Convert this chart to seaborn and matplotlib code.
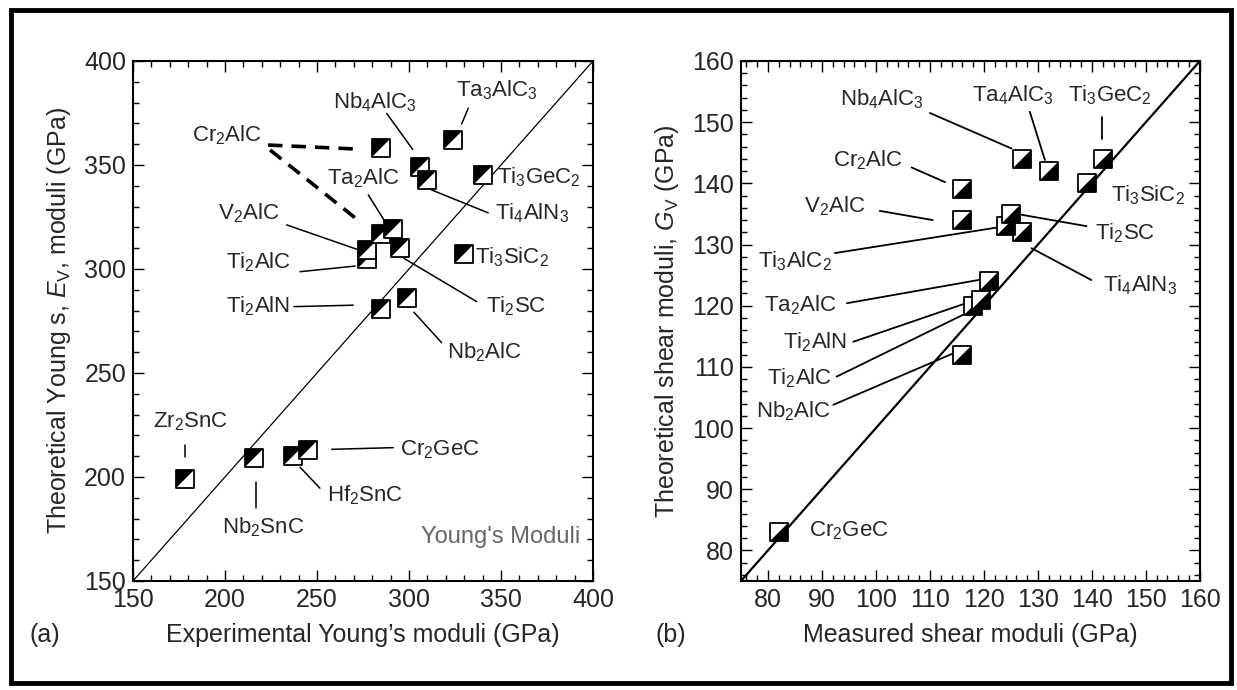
import numpy as np
import pandas as pd
import matplotlib
matplotlib.use('Agg')
import matplotlib.pyplot as plt
from matplotlib.ticker import MultipleLocator
from matplotlib.patches import Rectangle
import seaborn as sns

# Данные: (a) модуль Юнга
young_names = ['Zr2SnC', 'Nb2SnC', 'Hf2SnC', 'Cr2GeC', 'Ti2AlN', 'Nb2AlC', 'Ti2AlC',
               'V2AlC', 'Cr2AlC', 'Ta2AlC', 'Ti2SC', 'Ti3SiC2', 'Cr2AlC', 'Nb4AlC3',
               'Ti4AlN3', 'Ti3GeC2', 'Ta3AlC3']
young_exp = [178, 216, 237, 245, 285, 299, 277, 277, 285, 291.5, 295, 330, 285, 306, 310, 340, 324]
young_theo = [199, 209, 210, 213, 281, 286, 305, 309, 317, 319, 310, 307, 358, 349, 343, 345, 362]

# Данные: (b) модуль сдвига
shear_names = ['Cr2GeC', 'Nb2AlC', 'Ti2AlC', 'Ti2AlN', 'Ta2AlC', 'V2AlC', 'Cr2AlC',
               'Ti4AlN3', 'Ti3AlC2', 'Ti2SC', 'Nb4AlC3', 'Ta4AlC3', 'Ti3SiC2', 'Ti3GeC2']
shear_meas = [82, 116, 118, 119.5, 121, 116, 116, 127, 124, 125, 127, 132, 139, 142]
shear_theo = [83, 112, 120, 121, 124, 134, 139, 132, 133, 135, 144, 142, 140, 144]

df_young = pd.DataFrame({'name': young_names, 'x': young_exp, 'y': young_theo})
df_shear = pd.DataFrame({'name': shear_names, 'x': shear_meas, 'y': shear_theo})

sns.set_theme(style='ticks')
plt.rcParams['font.family'] = ['Liberation Sans', 'DejaVu Sans']
plt.rcParams['mathtext.fontset'] = 'custom'
plt.rcParams['mathtext.rm'] = 'Liberation Sans'
plt.rcParams['mathtext.it'] = 'Liberation Sans:italic'
plt.rcParams['mathtext.bf'] = 'Liberation Sans:bold'


def tex(name):
    # Ti3AlC2 -> Ti$_3$AlC$_2$
    out = ''
    for ch in name:
        out += '$_%s$' % ch if ch.isdigit() else ch
    return out


tri_ul = [(-1, -1), (-1, 1), (1, 1)]
tri_lr = [(-1, -1), (1, -1), (1, 1)]


def draw_points(ax, df, tri):
    z = 3
    for _, r in df.iterrows():
        sns.scatterplot(x=[r['x']], y=[r['y']], marker='s', s=160, color='white',
                        edgecolor='black', linewidth=1.3, ax=ax, zorder=z, legend=False)
        sns.scatterplot(x=[r['x']], y=[r['y']], marker=tri, s=160, color='black',
                        linewidth=0, ax=ax, zorder=z + 0.5, legend=False)
        z += 1


def setup(ax, lo, hi, major, minor):
    ax.set_xlim(lo, hi)
    ax.set_ylim(lo, hi)
    ax.xaxis.set_major_locator(MultipleLocator(major))
    ax.yaxis.set_major_locator(MultipleLocator(major))
    ax.xaxis.set_minor_locator(MultipleLocator(minor))
    ax.yaxis.set_minor_locator(MultipleLocator(minor))
    ax.tick_params(which='both', direction='in', top=True, right=True, color='black',
                   labelsize=18, width=1.0)
    ax.tick_params(which='major', length=8, pad=5)
    ax.tick_params(which='minor', length=4)
    for s in ax.spines.values():
        s.set_linewidth(1.5)
        s.set_color('black')


fig = plt.figure(figsize=(12.37, 6.90), dpi=100)
ax1 = fig.add_axes([0.1075, 0.158, 0.3719, 0.7536])
ax2 = fig.add_axes([0.599, 0.158, 0.371, 0.7536])

# (a)
sns.lineplot(x=[150, 400], y=[150, 400], color='black', linewidth=0.9, ax=ax1)
draw_points(ax1, df_young, tri_ul)
setup(ax1, 150, 400, 50, 10)
ax1.set_xlabel("Experimental Young’s moduli (GPa)", fontsize=18, labelpad=8)
ax1.set_ylabel(r"Theoretical Young s, $E_\mathrm{V}$, moduli (GPa)", fontsize=18, labelpad=8)

young_labels = [
    ('Zr2SnC', 181, 226.6, 'center', [(178.3, 215.4), (178.3, 209.5)]),
    ('Nb2SnC', 220.8, 176, 'center', [(216.8, 197.7), (216.8, 185)]),
    ('Hf2SnC', 276, 191.3, 'center', [(240.8, 204.7), (251.6, 194.6)]),
    ('Cr2GeC', 316.8, 213, 'center', [(258, 213.3), (291.4, 214.1)]),
    ('Ti2AlN', 218, 282, 'center', [(237.5, 281.9), (269.7, 282.6)]),
    ('Nb2AlC', 341, 260, 'center', [(302.7, 279.2), (317.7, 264.6)]),
    ('Ti2AlC', 218, 303.5, 'center', [(240.8, 298.7), (270.7, 301.4)]),
    ('V2AlC', 212.7, 326.8, 'center', [(233.5, 321.2), (271.6, 309.5)]),
    ('Ta2AlC', 275, 343.6, 'center', [(277.9, 335.6), (287, 322.7)]),
    ('Ti2SC', 342, 282.2, 'left', [(297.3, 305.1), (336.8, 284.3)]),
    ('Ti3SiC2', 336, 305.5, 'left', None),
    ('Cr2AlC', 201, 364.4, 'center', None),
    ('Nb4AlC3', 281.5, 380.4, 'center', [(287.9, 374.8), (302, 357.5)]),
    ('Ti4AlN3', 347, 326.9, 'left', [(312.3, 338), (343, 327)]),
    ('Ti3GeC2', 347.8, 344.2, 'left', None),
    ('Ta3AlC3', 347.6, 386.1, 'center', [(332.2, 377.3), (328.6, 369.7)]),
]
for name, tx, ty, ha, lead in young_labels:
    ax1.text(tx, ty, tex(name), fontsize=16, ha=ha, va='center', zorder=50)
    if lead:
        ax1.plot([lead[0][0], lead[1][0]], [lead[0][1], lead[1][1]], color='black',
                 linewidth=1.1, zorder=2)
# штриховые линии Cr2AlC
ax1.plot([223.4, 270.7], [359.6, 357.7], color='black', linewidth=2.6, linestyle=(0, (4, 2.5)), zorder=2)
ax1.plot([224.5, 273.4], [357.2, 322.7], color='black', linewidth=2.6, linestyle=(0, (4, 2.5)), zorder=2)
ax1.text(393, 171.3, "Young's Moduli", fontsize=17, color='#666666', ha='right', va='center')

# (b)
sns.lineplot(x=[75, 160], y=[75, 160], color='black', linewidth=1.6, ax=ax2)
draw_points(ax2, df_shear, tri_lr)
setup(ax2, 75, 160, 10, 2)
ax2.set_xlabel("Measured shear moduli (GPa)", fontsize=18, labelpad=8)
ax2.set_ylabel(r"Theoretical shear moduli, $G_\mathrm{V}$ (GPa)", fontsize=18, labelpad=8)

shear_labels = [
    ('Nb4AlC3', 101.2, 153.7, [(110, 151.5), (125.1, 145.7)]),
    ('Ta4AlC3', 125.4, 154.4, [(128.5, 151.7), (131.3, 143.8)]),
    ('Ti3GeC2', 143.3, 154.4, [(141.8, 150.9), (141.8, 147.2)]),
    ('Ti3SiC2', 150.4, 138.1, None),
    ('Cr2AlC', 98.6, 143.8, [(106.6, 142.6), (112.8, 140.2)]),
    ('V2AlC', 92.4, 136.2, [(100.7, 135.5), (110.5, 134.0)]),
    ('Ti2SC', 146.1, 131.8, [(126.1, 135.0), (139.0, 133.0)]),
    ('Ti3AlC2', 85.0, 127.2, [(92.4, 128.6), (123.3, 132.9)]),
    ('Ti4AlN3', 148.9, 123.4, [(139.9, 124.2), (128.8, 129.4)]),
    ('Ta2AlC', 85.9, 120.1, [(94.6, 120.4), (119.0, 124.2)]),
    ('Ti2AlN', 88.7, 114.1, [(95.8, 114.1), (118.0, 120.8)]),
    ('Ti2AlC', 85.9, 108.2, [(92.7, 108.4), (116.8, 118.8)]),
    ('Nb2AlC', 84.7, 102.7, [(92.1, 103.8), (114.3, 112.2)]),
    ('Cr2GeC', 94.9, 83.3, None),
]
for name, tx, ty, lead in shear_labels:
    ax2.text(tx, ty, tex(name), fontsize=16, ha='center', va='center', zorder=50)
    if lead:
        ax2.plot([lead[0][0], lead[1][0]], [lead[0][1], lead[1][1]], color='black',
                 linewidth=1.3, zorder=2)

fig.text(0.036, 0.08, '(a)', fontsize=18, ha='center', va='center')
fig.text(0.542, 0.08, '(b)', fontsize=18, ha='center', va='center')

fig.patches.append(Rectangle((0.009, 0.010), 0.986, 0.976, transform=fig.transFigure,
                             fill=False, linewidth=3.5, edgecolor='black'))

fig.savefig('out.png', dpi=100)
